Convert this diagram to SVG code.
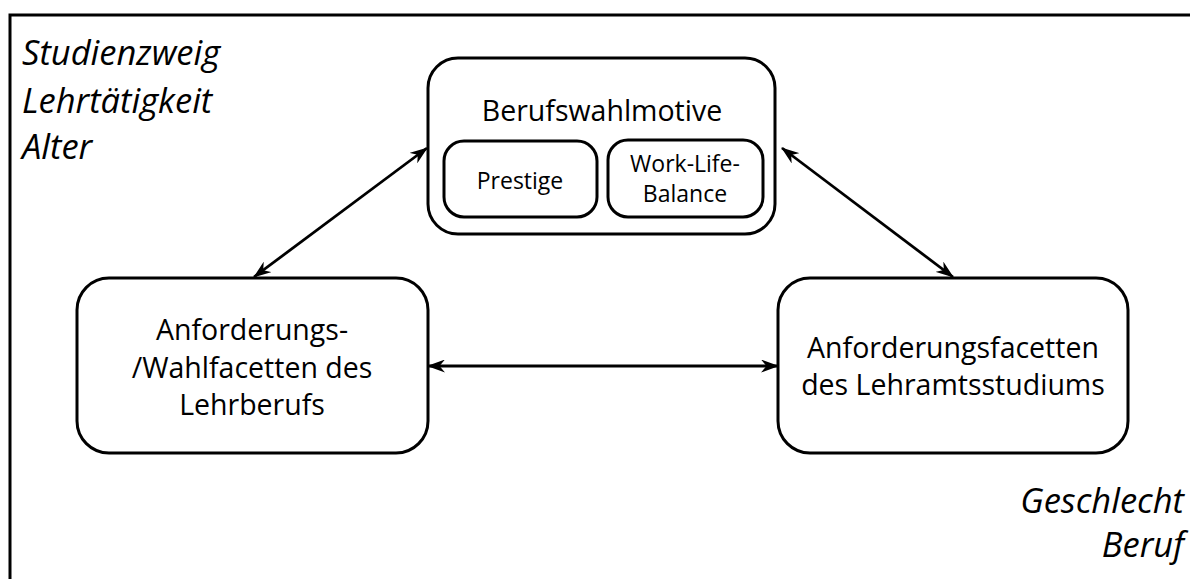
<svg xmlns="http://www.w3.org/2000/svg" width="1190" height="579" viewBox="0 0 1190 579">
<defs>
<style>
.box{fill:#fff;stroke:#000;stroke-width:3}
.t{font-family:"Open Sans","Noto Sans",sans-serif;fill:#000;text-anchor:middle}
.big{font-size:28.5px}
.small{font-size:23px}
.it{font-family:"Open Sans","Noto Sans",sans-serif;font-style:italic;font-size:34.5px;fill:#000}
.c{stroke:#000;stroke-width:2.8;fill:none;marker-start:url(#a);marker-end:url(#a)}
</style>
<marker id="a" viewBox="0 0 18 13" refX="17" refY="6.5" markerWidth="18" markerHeight="13" markerUnits="userSpaceOnUse" orient="auto-start-reverse">
<path d="M0,0 L18,6.5 L0,13 L5.5,6.5 Z" fill="#000"/>
</marker>
</defs>
<rect width="1190" height="579" fill="#fff"/>
<path d="M10,579 V15 H1190" fill="none" stroke="#000" stroke-width="3"/>
<g id="labels-left">
<text class="it" x="22" y="65">Studienzweig</text>
<text class="it" x="22" y="113">Lehrtätigkeit</text>
<text class="it" x="22" y="159">Alter</text>
</g>
<g id="labels-right">
<text class="it" x="1184" y="513" text-anchor="end">Geschlecht</text>
<text class="it" x="1184" y="557" text-anchor="end">Beruf</text>
</g>
<g id="connectors">
<line class="c" x1="254" y1="277" x2="427" y2="148"/>
<line class="c" x1="782" y1="148" x2="953" y2="277"/>
<line class="c" x1="428" y1="366" x2="778" y2="366"/>
</g>
<g id="berufswahlmotive">
<rect class="box" x="428" y="58" width="347" height="176" rx="30"/>
<text class="t big" x="602" y="121">Berufswahlmotive</text>
</g>
<g id="prestige">
<rect class="box" x="444" y="141" width="153" height="76" rx="20"/>
<text class="t small" x="520" y="189">Prestige</text>
</g>
<g id="worklife">
<rect class="box" x="608" y="140" width="155" height="77" rx="20"/>
<text class="t small" x="685" y="172">Work-Life-</text>
<text class="t small" x="685" y="202">Balance</text>
</g>
<g id="lehrberuf">
<rect class="box" x="77" y="278" width="351" height="175" rx="32"/>
<text class="t big" x="252" y="340">Anforderungs-</text>
<text class="t big" x="252" y="378">/Wahlfacetten des</text>
<text class="t big" x="252" y="415">Lehrberufs</text>
</g>
<g id="lehramtsstudium">
<rect class="box" x="778" y="278" width="350" height="175" rx="32"/>
<text class="t big" x="953" y="358">Anforderungsfacetten</text>
<text class="t big" x="953" y="395">des Lehramtsstudiums</text>
</g>
</svg>
